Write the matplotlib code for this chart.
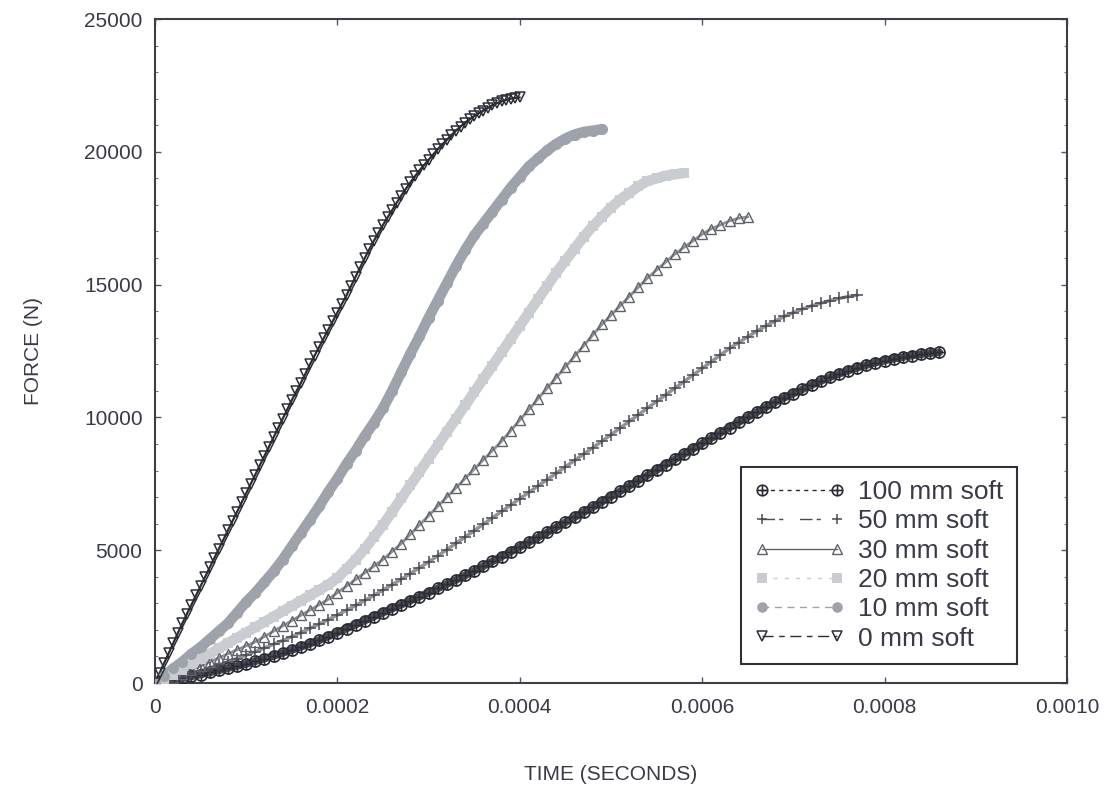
import numpy as np
import matplotlib
matplotlib.use("Agg")
import matplotlib.pyplot as plt
from matplotlib.path import Path
from matplotlib.lines import Line2D
from matplotlib.ticker import MultipleLocator, FixedLocator

plt.rcParams["font.family"] = ["Liberation Sans", "DejaVu Sans"]

# Force (N) sampled every 10 microseconds (0 mm soft: every 5 microseconds)
force_100mm = [0, 50, 110, 180, 250, 320, 400, 480, 560, 640, 720, 820, 920, 1020, 1130, 1240,
               1360, 1480, 1610, 1750, 1900, 2050, 2200, 2350, 2500, 2650, 2800, 2950, 3100,
               3250, 3400, 3560, 3720, 3880, 4050, 4220, 4400, 4580, 4760, 4940, 5120, 5300,
               5480, 5670, 5860, 6050, 6240, 6430, 6620, 6820, 7020, 7220, 7420, 7620, 7820,
               8020, 8220, 8420, 8620, 8820, 9020, 9220, 9420, 9620, 9820, 10010, 10200, 10390,
               10570, 10740, 10900, 11060, 11220, 11370, 11510, 11640, 11760, 11870, 11970,
               12060, 12140, 12210, 12270, 12330, 12380, 12420, 12450]
force_50mm = [0, 80, 170, 260, 360, 460, 570, 680, 800, 920, 1050, 1180, 1320, 1460, 1600, 1750,
              1900, 2060, 2220, 2390, 2560, 2740, 2920, 3110, 3300, 3500, 3700, 3910, 4120, 4340,
              4560, 4790, 5020, 5260, 5500, 5740, 5980, 6220, 6460, 6700, 6940, 7180, 7420,
              7660, 7900, 8140, 8380, 8620, 8860, 9100, 9350, 9600, 9850, 10100, 10350, 10600,
              10850, 11100, 11350, 11600, 11850, 12100, 12350, 12600, 12820, 13040, 13250,
              13450, 13630, 13800, 13950, 14080, 14200, 14300, 14400, 14480, 14550, 14600]
force_30mm = [0, 100, 200, 350, 500, 650, 800, 950, 1100, 1250, 1400, 1550, 1750, 1950, 2150,
              2350, 2550, 2750, 2950, 3150, 3400, 3650, 3900, 4150, 4400, 4650, 4950, 5250, 5600,
              5950, 6300, 6650, 7000, 7350, 7700, 8050, 8400, 8750, 9100, 9500, 9900, 10300,
              10700, 11100, 11500, 11900, 12300, 12700, 13100, 13500, 13850, 14200, 14550,
              14900, 15250, 15550, 15850, 16150, 16400, 16650, 16900, 17100, 17250, 17400,
              17500, 17550]
force_20mm = [0, 150, 300, 500, 700, 900, 1100, 1300, 1500, 1700, 1900, 2100, 2300, 2500, 2700,
              2900, 3100, 3300, 3500, 3700, 3950, 4300, 4650, 5050, 5500, 5950, 6450, 6950, 7450,
              7950, 8450, 8950, 9450, 9950, 10450, 10950, 11450, 11950, 12450, 12950, 13450,
              13950, 14450, 14950, 15450, 15900, 16350, 16800, 17200, 17550, 17900, 18200,
              18450, 18700, 18900, 19000, 19100, 19150, 19200]
force_10mm = [0, 250, 550, 800, 1100, 1350, 1650, 1950, 2250, 2650, 3050, 3400, 3800, 4200, 4650,
              5150, 5650, 6150, 6650, 7200, 7700, 8250, 8750, 9300, 9800, 10350, 11000, 11700,
              12400, 13050, 13750, 14400, 15050, 15700, 16300, 16850, 17300, 17750, 18200,
              18650, 19050, 19450, 19750, 20050, 20300, 20500, 20650, 20750, 20800, 20850]
force_0mm = [0, 370, 750, 1120, 1500, 1880, 2250, 2600, 2950, 3300, 3650, 4000, 4350, 4700, 5050,
             5400, 5750, 6100, 6450, 6800, 7150, 7500, 7850, 8200, 8550, 8900, 9250, 9600, 9950,
             10300, 10650, 10980, 11300, 11650, 12000, 12330, 12650, 12980, 13300, 13630, 13950,
             14280, 14600, 14950, 15300, 15650, 16000, 16330, 16650, 16950, 17250, 17530, 17800,
             18080, 18350, 18600, 18850, 19080, 19300, 19500, 19700, 19900, 20100, 20280, 20450,
             20630, 20800, 20950, 21100, 21230, 21350, 21450, 21550, 21650, 21750, 21830, 21900,
             21950, 22000, 22030, 22050]

labels = ["100 mm soft", "50 mm soft", "30 mm soft", "20 mm soft", "10 mm soft", "0 mm soft"]
forces = [force_100mm, force_50mm, force_30mm, force_20mm, force_10mm, force_0mm]
steps = [10e-6, 10e-6, 10e-6, 10e-6, 10e-6, 5e-6]

x_ticks = [0, 0.0002, 0.0004, 0.0006, 0.0008, 0.0010]
x_ticklabels = ["0", "0.0002", "0.0004", "0.0006", "0.0008", "0.0010"]
y_ticks = [0, 5000, 10000, 15000, 20000, 25000]
y_ticklabels = ["0", "5000", "10000", "15000", "20000", "25000"]

# circle with a cross inside
oplus = Path.make_compound_path(
    Path.unit_circle(),
    Path([(-1, 0), (1, 0), (0, -1), (0, 1)],
         [Path.MOVETO, Path.LINETO, Path.MOVETO, Path.LINETO]))

styles = [
    dict(color="#2b2d36", marker=oplus, mfc="none", ms=8, mew=1.2, band=5.5, alpha=0.85,
         ls=(0, (3, 3))),
    dict(color="#484b54", marker="+", mfc="none", ms=8, mew=1.1, band=2.5, alpha=0.6,
         ls=(0, (9, 3, 3, 12))),
    dict(color="#5f626b", marker="^", mfc="none", ms=7.5, mew=1.0, band=2.0, alpha=0.7,
         ls="-"),
    dict(color="#c9ccd1", marker="s", mfc="#c9ccd1", ms=7.5, mew=0.0, band=7.5, alpha=1.0,
         ls=(0, (3, 5))),
    dict(color="#9ea2aa", marker="o", mfc="#9ea2aa", ms=8, mew=0.0, band=7.5, alpha=1.0,
         ls=(0, (5, 4))),
    dict(color="#2b2d36", marker="v", mfc="none", ms=7, mew=1.1, band=1.6, alpha=1.0,
         ls=(0, (8, 4, 4, 4))),
]

text_color = "#383a48"
fig = plt.figure(figsize=(11.12, 7.92), dpi=100)
ax = fig.add_axes([0.1394, 0.1376, 0.8201, 0.8384])

handles = []
for f, dt, st in zip(forces, steps, styles):
    t = np.arange(len(f)) * dt
    # thick band under the markers, then the markers themselves
    ax.plot(t, f, color=st["color"], lw=st["band"], alpha=st["alpha"],
            solid_capstyle="round", zorder=2)
    ax.plot(t, f, ls="none", marker=st["marker"], mfc=st["mfc"], mec=st["color"],
            ms=st["ms"], mew=st["mew"], zorder=3)
    handles.append(Line2D([], [], color=st["color"], lw=1.0, ls=st["ls"],
                          marker=st["marker"], mfc=st["mfc"], mec=st["color"],
                          ms=st["ms"] * 0.95, mew=st["mew"]))

ax.set_xlim(0, 0.0010)
ax.set_ylim(0, 25000)
ax.xaxis.set_major_locator(FixedLocator(x_ticks))
ax.set_xticklabels(x_ticklabels)
ax.yaxis.set_major_locator(FixedLocator(y_ticks))
ax.set_yticklabels(y_ticklabels)
ax.yaxis.set_minor_locator(MultipleLocator(1000))

ax.tick_params(which="major", direction="in", length=4, width=1, top=True, right=True,
               labelsize=15, colors="#55575f", labelcolor=text_color)
ax.tick_params(axis="x", which="major", pad=11)
ax.tick_params(axis="y", which="major", pad=9)
ax.tick_params(which="minor", direction="in", length=2, width=0.8, right=True,
               colors="#77797f")
for sp in ax.spines.values():
    sp.set_color("#3c3e48")
    sp.set_linewidth(1.5)

ax.set_xlabel("TIME (SECONDS)", fontsize=15, color=text_color)
ax.set_ylabel("FORCE (N)", fontsize=15, color=text_color)
ax.xaxis.set_label_coords(0.5, -0.124)
ax.yaxis.set_label_coords(-0.123, 0.5)

leg = ax.legend(handles, labels, loc="lower right", bbox_to_anchor=(0.945, 0.029),
                borderaxespad=0, fontsize=19, numpoints=2, handlelength=3.45,
                handletextpad=0.5, labelspacing=0.2, borderpad=0.5,
                fancybox=False, framealpha=1, edgecolor="#2f313a", labelcolor=text_color)
leg.get_frame().set_linewidth(1.5)

fig.savefig("out.png", dpi=100, facecolor="white")
